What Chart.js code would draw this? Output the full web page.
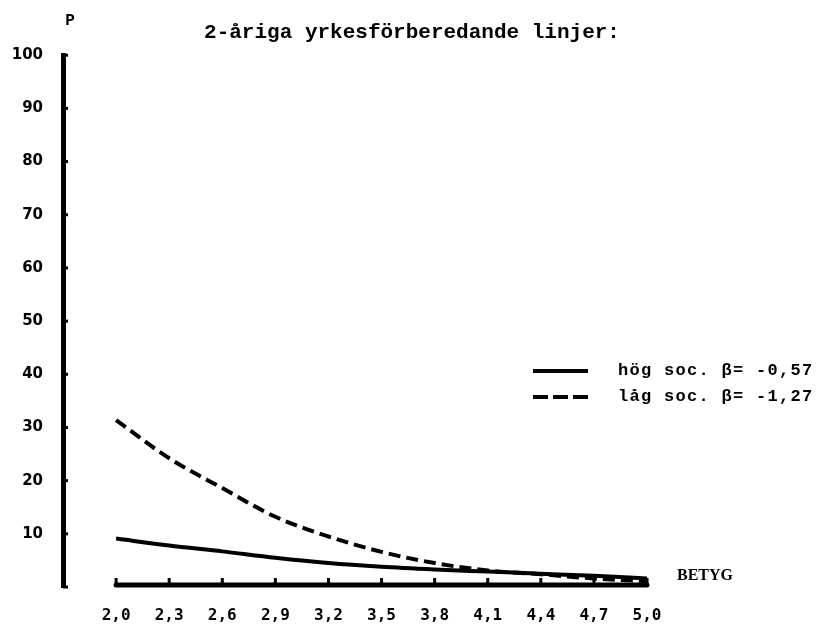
<!DOCTYPE html>
<html>
<head>
<meta charset="utf-8">
<script src="https://cdn.jsdelivr.net/npm/chart.js@4"></script>
<style>
    body { margin: 0; background: #fff; }
    #wrap { width: 824px; height: 627px; position: relative; }
</style>
</head>
<body>
<div id="wrap"><canvas id="myChart"></canvas></div>
<script>
// values (P in %, against BETYG)
let betyg = [2.0, 2.3, 2.6, 2.9, 3.2, 3.5, 3.8, 4.1, 4.4, 4.7, 5.0];
let betyg_labels = ['2,0', '2,3', '2,6', '2,9', '3,2', '3,5', '3,8', '4,1', '4,4', '4,7', '5,0'];
let hog_soc = [9.1, 7.8, 6.7, 5.5, 4.5, 3.8, 3.3, 2.9, 2.5, 2.1, 1.6];
let lag_soc = [31.4, 24.2, 18.6, 13.2, 9.5, 6.6, 4.5, 3.1, 2.4, 1.6, 1.1];
let y_ticks = [0, 10, 20, 30, 40, 50, 60, 70, 80, 90, 100];
let series_labels = ['hög soc. β= -0,57', 'låg soc. β= -1,27'];
let title_text = '2-åriga yrkesförberedande linjer:';
let y_name = 'P';
let x_name = 'BETYG';

function to_points(ys) {
    return betyg.map((x, i) => ({ x: x, y: ys[i] }));
}

// axis decorations, legend and the small labels
let decor = {
    id: 'decor',
    afterDraw(chart) {
        let ctx = chart.ctx;
        let xs = chart.scales.x;
        let ys = chart.scales.y;
        let area = chart.chartArea;
        ctx.save();
        ctx.fillStyle = '#000';
        ctx.strokeStyle = '#000';

        // nubs on the y axis
        y_ticks.forEach(v => {
            let py = ys.getPixelForValue(v);
            ctx.fillRect(area.left, py - 1.5, 5, 3);
        });

        // separate x axis line from 2,0 to 5,0
        let x0 = xs.getPixelForValue(betyg[0]);
        let x1 = xs.getPixelForValue(betyg[betyg.length - 1]);
        let base = area.bottom - 2;
        ctx.lineWidth = 5;
        ctx.lineCap = 'round';
        ctx.beginPath();
        ctx.moveTo(x0, base);
        ctx.lineTo(x1, base);
        ctx.stroke();
        betyg.forEach(v => {
            let px = xs.getPixelForValue(v);
            ctx.fillRect(px - 1.5, base - 7, 3, 6);
        });

        // P and BETYG
        ctx.textBaseline = 'middle';
        ctx.font = 'bold 16px "Liberation Mono"';
        ctx.textAlign = 'center';
        ctx.fillText(y_name, area.left + 7, 21);
        ctx.font = 'bold 16px "Liberation Serif"';
        ctx.textAlign = 'left';
        ctx.fillText(x_name, x1 + 30, base - 9);

        // legend
        let leg_y = [371, 397];
        let leg_dash = [[], [15, 5]];
        chart.data.datasets.forEach((ds, i) => {
            ctx.lineWidth = 4;
            ctx.lineCap = 'butt';
            ctx.setLineDash(leg_dash[i]);
            ctx.beginPath();
            ctx.moveTo(533, leg_y[i]);
            ctx.lineTo(588, leg_y[i]);
            ctx.stroke();
            ctx.setLineDash([]);
            ctx.font = 'bold 17px "Liberation Mono"';
            ctx.letterSpacing = '1.3px';
            ctx.fillText(ds.label, 618, leg_y[i]);
            ctx.letterSpacing = '0px';
        });
        ctx.restore();
    }
};

let ctx = document.getElementById('myChart');
let chart = new Chart(ctx, {
    type: 'line',
    data: {
        datasets: [
            {
                label: series_labels[0],
                data: to_points(hog_soc),
                borderColor: '#000',
                borderWidth: 4,
                pointRadius: 0,
                fill: false,
                cubicInterpolationMode: 'monotone'
            },
            {
                label: series_labels[1],
                data: to_points(lag_soc),
                borderColor: '#000',
                borderWidth: 4,
                borderDash: [12, 6],
                pointRadius: 0,
                fill: false,
                cubicInterpolationMode: 'monotone'
            }
        ]
    },
    options: {
        animation: false,
        responsive: true,
        maintainAspectRatio: false,
        layout: { padding: 0 },
        scales: {
            x: {
                type: 'linear',
                min: 1.7,
                max: 6.0,
                afterBuildTicks: (s) => { s.ticks = betyg.map(v => ({ value: v })); },
                afterFit: (s) => { s.height = 40; },
                grid: { display: false, drawTicks: false },
                border: { display: false },
                ticks: {
                    autoSkip: false,
                    maxRotation: 0,
                    padding: 19,
                    color: '#000',
                    font: { family: 'DejaVu Sans Mono', size: 16, weight: 'bold' },
                    callback: (v) => {
                        let i = betyg.findIndex(b => Math.abs(b - v) < 1e-6);
                        return i >= 0 ? betyg_labels[i] : '';
                    }
                }
            },
            y: {
                min: 0,
                max: 100,
                afterBuildTicks: (s) => { s.ticks = y_ticks.map(v => ({ value: v })); },
                afterFit: (s) => { s.width = 63; },
                grid: { display: false, drawTicks: false },
                border: { display: true, color: '#000', width: 5 },
                ticks: {
                    padding: 20,
                    color: '#000',
                    font: { family: 'DejaVu Sans', size: 15, weight: 'bold' },
                    callback: (v) => v === 0 ? '' : v
                }
            }
        },
        plugins: {
            legend: { display: false },
            tooltip: { enabled: false },
            title: {
                display: true,
                text: title_text,
                color: '#000',
                font: { family: 'Liberation Mono', size: 21, weight: 'bold', lineHeight: 1.2 },
                padding: { top: 20, bottom: 10 }
            }
        }
    },
    plugins: [decor]
});
</script>
</body>
</html>
